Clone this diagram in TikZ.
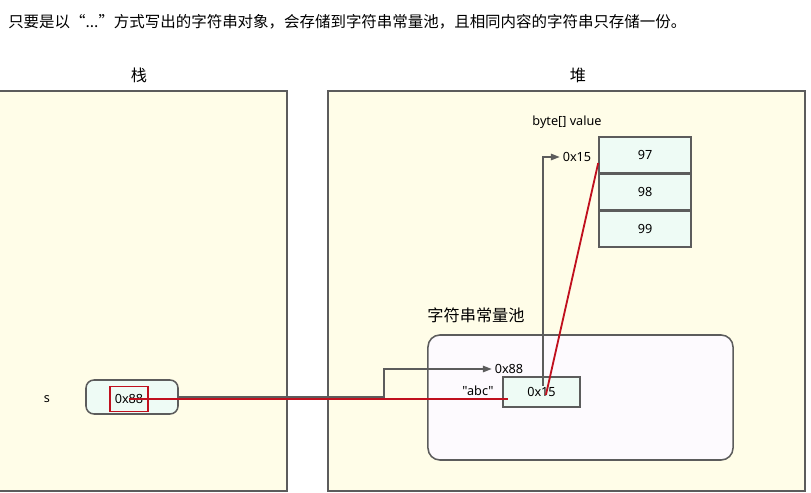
\documentclass[tikz,border=0pt]{standalone}
\usepackage{fontspec}
\setmainfont{Noto Sans}
\newfontfamily\cjk{Noto Sans CJK SC}
\newfontfamily\plainfont{Noto Sans}[Ligatures=TeXOff]
\usepackage{xcolor}
\usetikzlibrary{arrows.meta}

\definecolor{areafill}{HTML}{FFFDE8}
\definecolor{edgegray}{HTML}{5C5C5C}
\definecolor{cellfill}{HTML}{EEFBF5}
\definecolor{poolfill}{HTML}{FDFAFE}
\definecolor{refred}{HTML}{C0101E}

\begin{document}
\begin{tikzpicture}[x=0.025cm, y=-0.025cm,
        area/.style={draw=edgegray, fill=areafill, line width=1.1pt},
        cell/.style={rectangle, draw=edgegray, fill=cellfill, line width=1.1pt, inner sep=0pt, minimum width=2.3cm, minimum height=0.9cm, font=\fontsize{9}{11}\selectfont},
        label/.style={inner sep=2pt, font=\fontsize{9}{11}\selectfont},
        head/.style={inner sep=0pt, font=\cjk\fontsize{11.5}{13}\selectfont},
        ptr/.style={-{Triangle[length=0.22cm, width=0.16cm]}, draw=edgegray, line width=1.1pt},
        refline/.style={draw=refred, line width=1.3pt}
    ]
        \useasboundingbox (0,0) rectangle (811,493);
        \fill[white] (0,0) rectangle (811,493);

        % Title
        \node[anchor=west, inner sep=0pt, font=\cjk\fontsize{11}{13}\selectfont] (title) at (8,22) {只要是以“...”方式写出的字符串对象，会存储到字符串常量池，且相同内容的字符串只存储一份。};

        % Stack
        \node[head] (stack-head) at (139,75) {栈};
        \draw[area] (-5,91) rectangle (287,491);
        \node[label] (s-name) at (47,399) {s};
        \node[cell, rounded corners=0.2cm, minimum height=0.85cm] (sbox) at (132,397) {};
        \node[rectangle, draw=refred, line width=1.3pt, inner sep=0pt, minimum width=0.95cm, minimum height=0.625cm, font=\fontsize{9}{11}\selectfont] (ref88) at (129,399) {0x88};

        % Heap
        \node[head] (heap-head) at (578,75) {堆};
        \draw[area] (328,91) rectangle (805,491);
        \node[label] (byte-name) at (567,122) {byte[] value};
        \node[cell] (cell97) at (645,155) {97};
        \node[cell] (cell98) at (645,192) {98};
        \node[cell] (cell99) at (645,229) {99};
        \node[label] (lbl15) at (577,157) {0x15};

        % String pool
        \node[head] (pool-head) at (476,315) {字符串常量池};
        \node[rectangle, rounded corners=0.3cm, draw=edgegray, fill=poolfill, line width=1.1pt, minimum width=7.625cm, minimum height=3.125cm] (pool) at (580.5,397.5) {};
        \node[cell, minimum width=1.925cm, minimum height=0.75cm] (strobj) at (541.5,392) {0x15};
        \node[label, font=\plainfont\fontsize{9}{11}\selectfont] (abc-name) at (478,391) {"abc"};
        \node[label] (lbl88) at (509,369) {0x88};

        % Arrows
        \draw[ptr] (sbox.east) -- ++(205,0) |- (lbl88.west);
        \draw[ptr] ([xshift=0.04cm, yshift=0.15cm]strobj.center) |- (lbl15.west);
        \draw[refline] (ref88.center) -- ([xshift=0.15cm]strobj.west |- ref88.center);
        \draw[refline] ([xshift=0.11cm, yshift=-0.075cm]strobj.center) -- ([yshift=-0.2cm]cell97.west);
    \end{tikzpicture}
\end{document}
